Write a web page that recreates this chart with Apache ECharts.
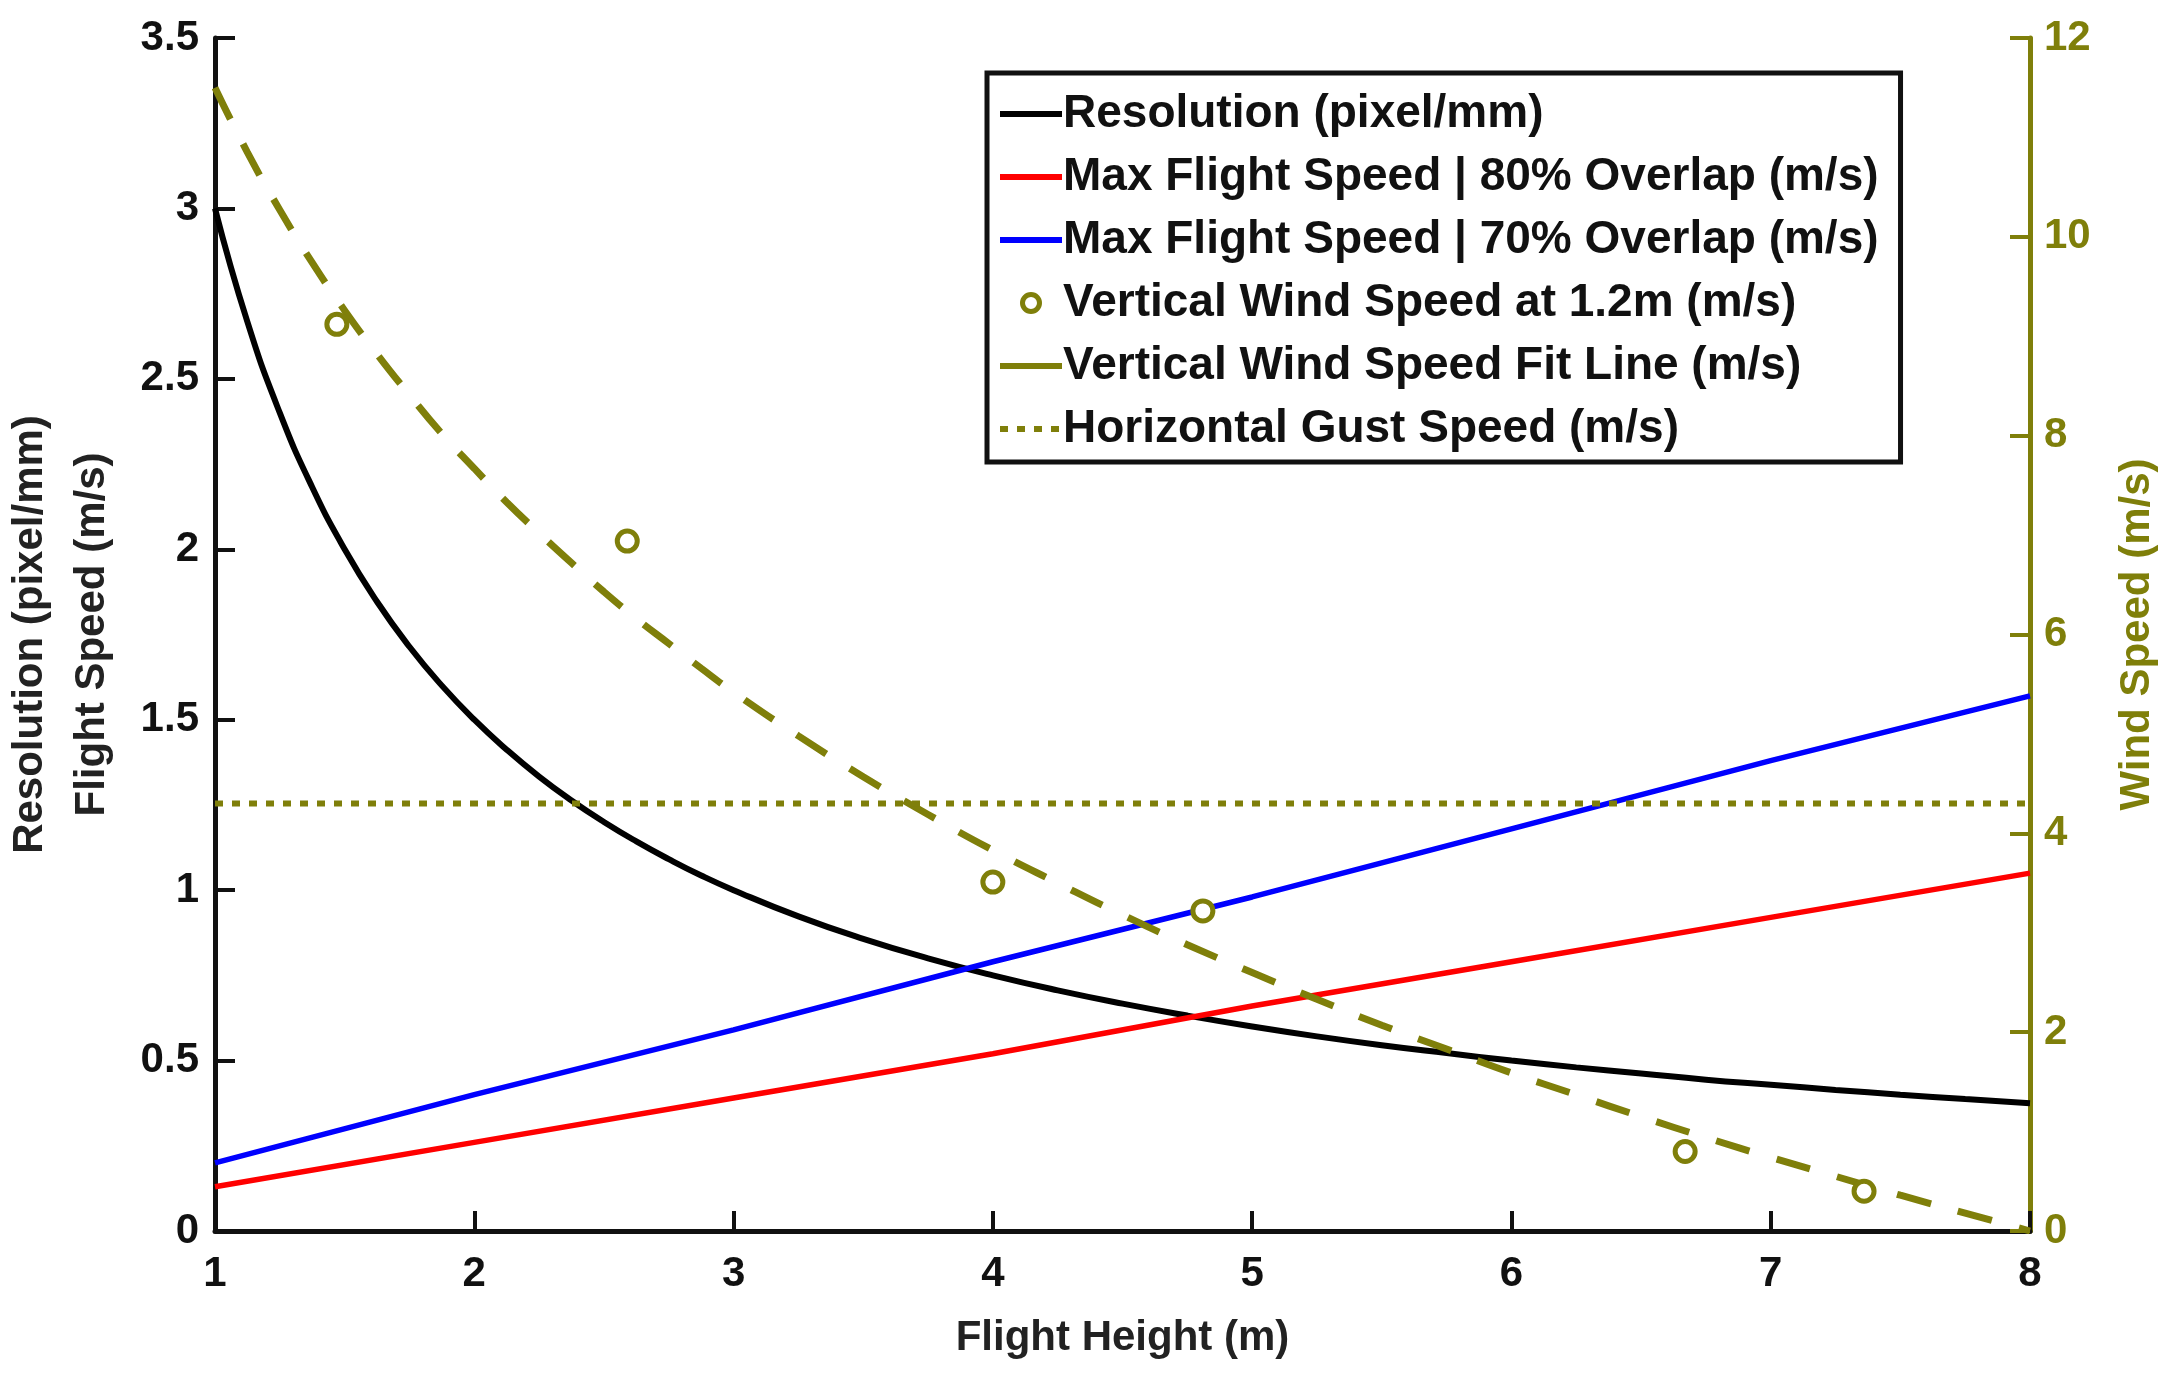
<!DOCTYPE html>
<html><head><meta charset="utf-8">
<script src="https://cdn.jsdelivr.net/npm/echarts@6/dist/echarts.min.js"></script>
<style>html,body{margin:0;padding:0;background:#fff}#c{width:2180px;height:1380px}</style>
</head><body><div id="c"></div>
<script>
// Flight height (m) sample positions for the curves
const heights = [1,1.125,1.25,1.375,1.5,1.625,1.75,1.875,2,2.125,2.25,2.375,2.5,2.625,2.75,2.875,3,3.25,3.5,3.75,4,4.25,4.5,4.75,5,5.25,5.5,5.75,6,6.25,6.5,6.75,7,7.25,7.5,7.75,8];
// Resolution (pixel/mm)
const resolution = [3.00,2.667,2.40,2.182,2.00,1.846,1.714,1.60,1.50,1.412,1.333,1.263,1.20,1.143,1.091,1.043,1.00,0.923,0.857,0.80,0.75,0.706,0.667,0.632,0.60,0.571,0.545,0.522,0.50,0.48,0.462,0.444,0.429,0.414,0.40,0.387,0.375];
// Vertical wind speed fit line (m/s)
const windFit = [11.5,10.85,10.27,9.74,9.26,8.82,8.41,8.02,7.67,7.33,7.02,6.72,6.43,6.16,5.91,5.66,5.42,4.98,4.57,4.19,3.83,3.50,3.18,2.88,2.60,2.33,2.07,1.83,1.59,1.37,1.15,0.94,0.74,0.55,0.36,0.18,0.0];
// Max flight speed lines (m/s)
const speedHeights = [1,2,3,4,5,6,7,8];
const speed80 = [0.13,0.26,0.39,0.52,0.66,0.79,0.92,1.05];
const speed70 = [0.20,0.40,0.59,0.79,0.98,1.18,1.38,1.57];
// Measured vertical wind speed at 1.2 m
const windHeights = [1.47,2.59,4.00,4.81,6.67,7.36];
const windSpeed = [9.12,6.94,3.51,3.22,0.80,0.40];
// Horizontal gust speed (m/s)
const gustHeights = [1,8];
const gustSpeed = [4.3,4.3];

const names = ['Resolution (pixel/mm)','Max Flight Speed | 80% Overlap (m/s)','Max Flight Speed | 70% Overlap (m/s)','Vertical Wind Speed at 1.2m (m/s)','Vertical Wind Speed Fit Line (m/s)','Horizontal Gust Speed (m/s)'];
const zip = (a,b)=>a.map((v,i)=>[v,b[i]]);
const OLIVE = '#7f7f0a';
const FONT = 'Liberation Sans, Arial, sans-serif';
const hideSym = {opacity:0};

const chart = echarts.init(document.getElementById('c'));
chart.setOption({
  animation:false,
  backgroundColor:'#fff',
  textStyle:{fontFamily:FONT},
  grid:{left:215,right:150,top:38,bottom:149,containLabel:false,outerBoundsMode:'none'},
  legend:{
    orient:'vertical', left:987, top:73,
    backgroundColor:'#fff', borderColor:'#111', borderWidth:5,
    padding:[18,22,10,10], itemGap:17, itemWidth:62, itemHeight:17,
    lineStyle:{width:6},
    textStyle:{fontFamily:FONT,fontWeight:'bold',fontSize:46,color:'#111',lineHeight:44,padding:[0,0,0,-4]},
    data:[
      {name:names[0], itemStyle:hideSym},
      {name:names[1], itemStyle:hideSym},
      {name:names[2], itemStyle:hideSym},
      {name:names[3], icon:'circle', itemStyle:{color:'#fff',borderColor:OLIVE,borderWidth:5,opacity:1}},
      {name:names[4], itemStyle:hideSym, lineStyle:{type:'solid',width:6}},
      {name:names[5], itemStyle:hideSym}
    ]
  },
  xAxis:{
    type:'value', min:1, max:8, interval:1,
    name:'Flight Height (m)', nameLocation:'middle', nameGap:86,
    nameTextStyle:{fontFamily:FONT,fontWeight:'bold',fontSize:42,color:'#222'},
    axisLine:{lineStyle:{color:'#111',width:5}},
    axisTick:{inside:true,length:20,lineStyle:{color:'#111',width:4}},
    axisLabel:{fontFamily:FONT,fontWeight:'bold',fontSize:42,color:'#111',margin:22},
    splitLine:{show:false}
  },
  yAxis:[{
    type:'value', min:0, max:3.5, interval:0.5, position:'left',
    name:'Resolution (pixel/mm)\nFlight Speed (m/s)', nameLocation:'middle', nameGap:92, nameRotate:90,
    nameTextStyle:{fontFamily:FONT,fontWeight:'bold',fontSize:42,color:'#222',lineHeight:62,align:'center'},
    axisLine:{show:true,lineStyle:{color:'#111',width:5}},
    axisTick:{show:true,inside:true,length:20,lineStyle:{color:'#111',width:4}},
    axisLabel:{fontFamily:FONT,fontWeight:'bold',fontSize:42,color:'#111',margin:16},
    splitLine:{show:false}
  },{
    type:'value', min:0, max:12, interval:2, position:'right',
    name:'Wind Speed (m/s)', nameLocation:'middle', nameGap:86, nameRotate:90,
    nameTextStyle:{fontFamily:FONT,fontWeight:'bold',fontSize:42,color:OLIVE},
    axisLine:{show:true,lineStyle:{color:OLIVE,width:5}},
    axisTick:{show:true,inside:true,length:20,lineStyle:{color:OLIVE,width:4}},
    axisLabel:{fontFamily:FONT,fontWeight:'bold',fontSize:42,color:OLIVE,margin:14},
    splitLine:{show:false}
  }],
  series:[
    {name:names[0],type:'line',yAxisIndex:0,data:zip(heights,resolution),smooth:true,symbol:'none',
      lineStyle:{color:'#000',width:6},itemStyle:{color:'#000'}},
    {name:names[1],type:'line',yAxisIndex:0,data:zip(speedHeights,speed80),symbol:'none',
      lineStyle:{color:'#ff0000',width:5.5},itemStyle:{color:'#ff0000'}},
    {name:names[2],type:'line',yAxisIndex:0,data:zip(speedHeights,speed70),symbol:'none',
      lineStyle:{color:'#0000ff',width:5.5},itemStyle:{color:'#0000ff'}},
    {name:names[3],type:'scatter',yAxisIndex:1,data:zip(windHeights,windSpeed),symbol:'circle',symbolSize:20,z:5,
      itemStyle:{color:'#fff',borderColor:OLIVE,borderWidth:5,opacity:1}},
    {name:names[4],type:'line',yAxisIndex:1,data:zip(heights,windFit),smooth:true,symbol:'none',
      lineStyle:{color:OLIVE,width:7,type:[35,28]},itemStyle:{color:OLIVE}},
    {name:names[5],type:'line',yAxisIndex:1,data:zip(gustHeights,gustSpeed),symbol:'none',
      lineStyle:{color:OLIVE,width:6,type:[8,9]},itemStyle:{color:OLIVE}}
  ]
});
</script></body></html>
